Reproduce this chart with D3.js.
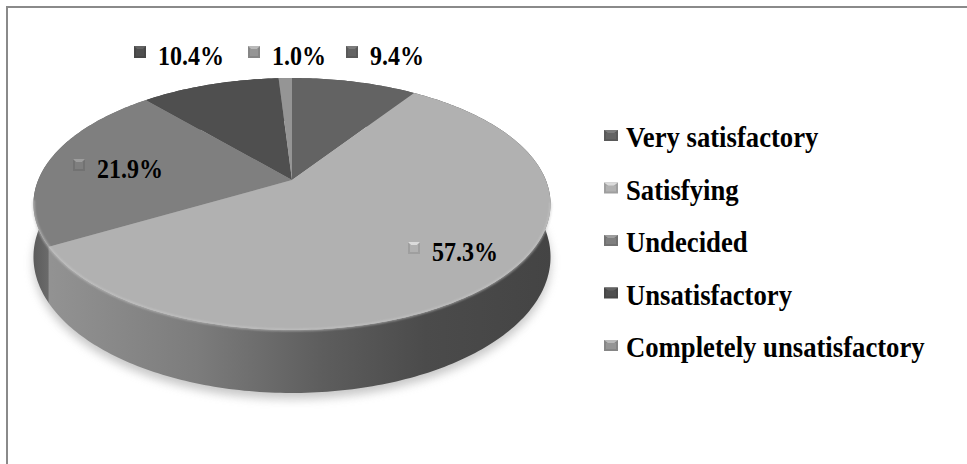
<!DOCTYPE html>
<html><head><meta charset="utf-8">
<script src="https://cdn.jsdelivr.net/npm/d3@7"></script>
<style>html,body{margin:0;padding:0;background:#fff;overflow:hidden}</style>
</head><body>
<svg id="chart" width="967" height="464"></svg>
<script>
// ---- data ----
const categories = ["Very satisfactory", "Satisfying", "Undecided", "Unsatisfactory", "Completely unsatisfactory"];
const values = [9.4, 57.3, 21.9, 10.4, 1.0];
const valueLabels = ["9.4%", "57.3%", "21.9%", "10.4%", "1.0%"];

// ---- styles / layout ----
const topColors  = ["#636363", "#b1b1b1", "#7f7f7f", "#4f4f4f", "#959595"];
const wallColors = ["#555555", "url(#gSat)", "url(#gUnd)", "#444444", "#777777"];
// label anchor (marker left x, text baseline y)
const labelPos = [[346, 65], [408, 261], [73, 178], [134, 65], [248, 65]];

const W = 967, H = 464;
const svg = d3.select("#chart");
const defs = svg.append("defs");

const gSat = defs.append("linearGradient").attr("id", "gSat")
  .attr("gradientUnits", "userSpaceOnUse").attr("x1", 45).attr("x2", 552).attr("y1", 0).attr("y2", 0);
[[0, "#939393"], [0.3, "#7c7c7c"], [0.55, "#5d5d5d"], [0.75, "#4b4b4b"], [1, "#444444"]]
  .forEach(([o, c]) => gSat.append("stop").attr("offset", o).attr("stop-color", c));
const gUnd = defs.append("linearGradient").attr("id", "gUnd")
  .attr("gradientUnits", "userSpaceOnUse").attr("x1", 32).attr("x2", 52).attr("y1", 0).attr("y2", 0);
[[0, "#5a5a5a"], [1, "#6e6e6e"]].forEach(([o, c]) => gUnd.append("stop").attr("offset", o).attr("stop-color", c));

defs.append("filter").attr("id", "blur6").attr("x", "-20%").attr("y", "-20%").attr("width", "140%").attr("height", "140%")
  .append("feGaussianBlur").attr("stdDeviation", 5);
defs.append("filter").attr("id", "blur1")
  .append("feGaussianBlur").attr("stdDeviation", 1);

// frame
svg.append("rect").attr("x", 7).attr("y", 7).attr("width", 1000).attr("height", 500)
  .attr("fill", "none").attr("stroke", "#8a8a8a").attr("stroke-width", 2);

// ---- perspective projection of the pie disk ----
const cx = 292, cy = 180;
const persp = 0.1905, rx = 253.8, ry = 121.4, depth = 51;
function proj(phi, z) {
  const u = Math.sin(phi), v = -Math.cos(phi);
  const d = 1 - persp * v;
  return [cx + rx * u / d, cy + (ry * v + depth * z) / d];
}
function arcPts(a0, a1, z) {
  const n = Math.max(2, Math.ceil((a1 - a0) * 60));
  const pts = [];
  for (let i = 0; i <= n; i++) pts.push(proj(a0 + (a1 - a0) * i / n, z));
  return pts;
}
const line = d3.line();

const pie = d3.pie().sort(null).value(d => d).startAngle(0).endAngle(2 * Math.PI);
const arcs = pie(values);

// shadow
const shadowPts = arcPts(0, 2 * Math.PI, 1).map(p => [p[0], p[1] + 6]);
svg.append("path").attr("d", line(shadowPts) + "Z").attr("fill", "#9a9a9a").attr("opacity", 0.55)
  .attr("filter", "url(#blur6)");

// walls (far ones first)
const wallOrder = arcs.map((a, i) => ({ a, i, depthKey: -Math.cos((a.startAngle + a.endAngle) / 2) }))
  .sort((p, q) => p.depthKey - q.depthKey);
svg.append("g").selectAll("path").data(wallOrder).join("path")
  .attr("d", d => {
    const top = arcPts(d.a.startAngle, d.a.endAngle, 0);
    const bot = arcPts(d.a.startAngle, d.a.endAngle, 1).reverse();
    return line(top.concat(bot)) + "Z";
  })
  .attr("fill", d => wallColors[d.i]);

// tops
svg.append("g").selectAll("path").data(arcs).join("path")
  .attr("d", (a) => line([[cx, cy]].concat(arcPts(a.startAngle, a.endAngle, 0))) + "Z")
  .attr("fill", (a, i) => topColors[i]);

// front edge highlight
svg.append("path").attr("d", line(arcPts(1.75, 4.55, 0)))
  .attr("fill", "none").attr("stroke", "#c9c9c9").attr("stroke-width", 2).attr("opacity", 0.7)
  .attr("filter", "url(#blur1)");

// marker helper (bevelled square)
function marker(g, x, y, w, h, col) {
  const c = d3.color(col);
  g.append("rect").attr("x", x).attr("y", y).attr("width", w).attr("height", h).attr("fill", c.darker(0.3));
  g.append("path").attr("d", `M${x},${y}L${x + w},${y}L${x + w / 2},${y + h / 2}Z`).attr("fill", c.brighter(0.6));
  g.append("rect").attr("x", x + 2).attr("y", y + 3).attr("width", w - 4).attr("height", h - 5).attr("fill", c);
}

const font = "'Liberation Serif','Times New Roman',serif";
const sy = 1.13;

// data labels
arcs.forEach((a, i) => {
  const [mx, by] = labelPos[i];
  const g = svg.append("g");
  marker(g, mx, by - 19, 12, 12, topColors[i]);
  svg.append("text").attr("transform", `translate(${mx + 24},${by}) scale(1,${sy})`)
    .attr("font-family", font).attr("font-weight", "bold").attr("font-size", 24).attr("fill", "#000")
    .text(valueLabels[i]);
});

// legend
const legY = d3.scalePoint().domain(categories).range([147, 357]);
const leg = svg.append("g");
categories.forEach((c, i) => {
  const y = legY(c);
  marker(leg, 604, y - 17, 14, 11, topColors[i]);
  leg.append("text").attr("transform", `translate(626,${y}) scale(1,1.09)`)
    .attr("font-family", font).attr("font-weight", "bold").attr("font-size", 26.7).attr("fill", "#000")
    .text(c);
});
</script>
</body></html>
